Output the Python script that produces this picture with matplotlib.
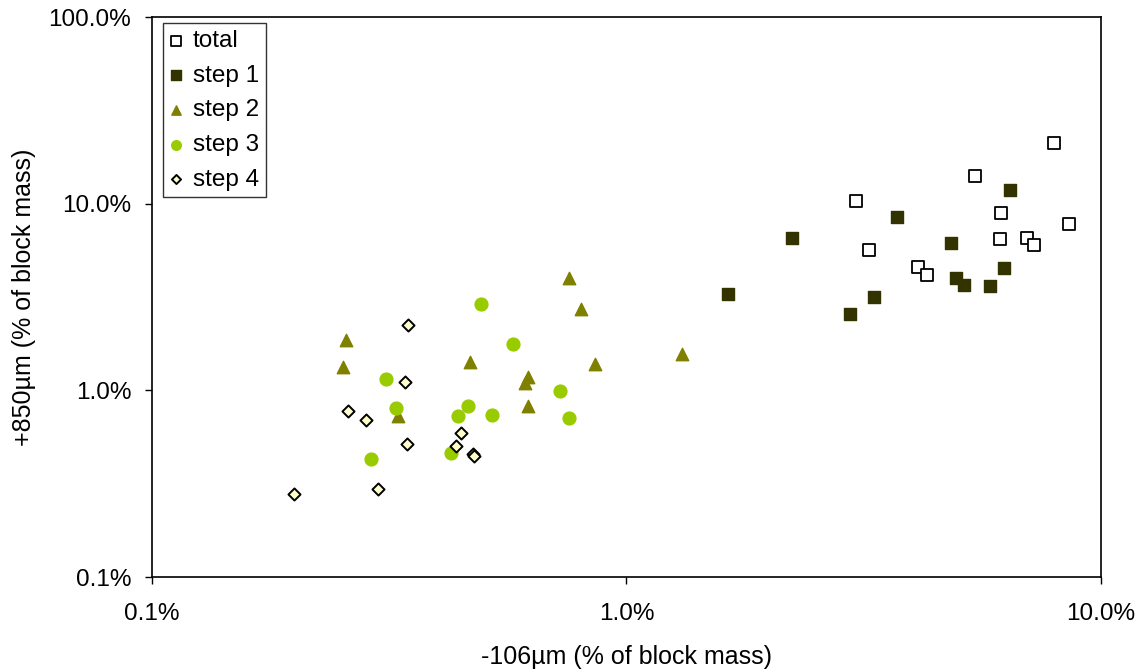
import matplotlib.pyplot as plt
from matplotlib.ticker import FixedLocator, NullLocator

plt.rcParams['font.family'] = ['Liberation Sans', 'DejaVu Sans']

# values in % of block mass: (-106um, +850um)
total_x = [3.05, 3.24, 5.43, 7.96, 6.16, 6.12, 6.98, 7.22, 8.56, 4.12, 4.30]
total_y = [10.3, 5.65, 14.1, 21.1, 8.91, 6.47, 6.55, 6.01, 7.78, 4.58, 4.15]

step1_x = [1.64, 2.23, 3.72, 6.42, 4.82, 6.26, 4.95, 5.14, 5.84, 3.32, 2.96]
step1_y = [3.27, 6.52, 8.48, 11.8, 6.13, 4.50, 4.00, 3.68, 3.64, 3.16, 2.56]

step2_x = [0.757, 0.801, 0.256, 0.253, 0.467, 0.857, 0.620, 0.612, 0.621, 0.330, 1.31]
step2_y = [3.98, 2.73, 1.86, 1.34, 1.42, 1.38, 1.18, 1.09, 0.824, 0.731, 1.565]

step3_x = [0.493, 0.578, 0.311, 0.724, 0.327, 0.463, 0.441, 0.521, 0.758, 0.289, 0.426]
step3_y = [2.90, 1.78, 1.155, 0.995, 0.804, 0.828, 0.731, 0.741, 0.708, 0.430, 0.463]

step4_x = [0.347, 0.341, 0.2585, 0.283, 0.344, 0.449, 0.438, 0.475, 0.477, 0.299, 0.199]
step4_y = [2.24, 1.104, 0.772, 0.691, 0.518, 0.588, 0.505, 0.457, 0.446, 0.295, 0.2795]

ticks = [0.1, 1.0, 10.0, 100.0]


def main():
    fig = plt.figure(figsize=(11.46, 6.70), dpi=100)
    ax = fig.add_axes([0.1326, 0.1388, 0.8281, 0.8358])

    ax.scatter(total_x, total_y, marker='s', s=80, facecolor='white',
               edgecolor='black', linewidth=1.3, label='total', zorder=3)
    ax.scatter(step1_x, step1_y, marker='s', s=80, color='#333300',
               label='step 1', zorder=3)
    ax.scatter(step2_x, step2_y, marker='^', s=80, color='#808000',
               label='step 2', zorder=3)
    ax.scatter(step3_x, step3_y, marker='o', s=85, color='#99CC00',
               label='step 3', zorder=3)
    ax.scatter(step4_x, step4_y, marker='D', s=38, facecolor='#FFFFCC',
               edgecolor='black', linewidth=1.4, label='step 4', zorder=3)

    ax.set_xscale('log')
    ax.set_yscale('log')
    ax.set_xlim(0.1, 10.0)
    ax.set_ylim(0.1, 100.0)

    ax.xaxis.set_major_locator(FixedLocator(ticks[:3]))
    ax.yaxis.set_major_locator(FixedLocator(ticks))
    ax.xaxis.set_minor_locator(NullLocator())
    ax.yaxis.set_minor_locator(NullLocator())
    ax.set_xticklabels(['%.1f%%' % t for t in ticks[:3]])
    ax.set_yticklabels(['%.1f%%' % t for t in ticks])
    ax.tick_params(axis='both', direction='out', length=5, width=1,
                   labelsize=17.5, pad=10)
    ax.tick_params(axis='x', pad=14)

    for sp in ax.spines.values():
        sp.set_linewidth(1.2)

    ax.set_xlabel('-106µm (% of block mass)', fontsize=18, labelpad=14)
    ax.set_ylabel('+850µm (% of block mass)', fontsize=18, labelpad=9)

    leg = ax.legend(loc='upper left', bbox_to_anchor=(0.0116, 0.989),
                    borderaxespad=0.0, fontsize=17.5, frameon=True,
                    fancybox=False, edgecolor='black', handletextpad=0.4,
                    handlelength=0.55, borderpad=0.28, labelspacing=0.52,
                    scatterpoints=1, markerscale=0.75)
    leg.get_frame().set_linewidth(1.0)

    fig.savefig('out.png', dpi=100)


if __name__ == "__main__":
    main()
